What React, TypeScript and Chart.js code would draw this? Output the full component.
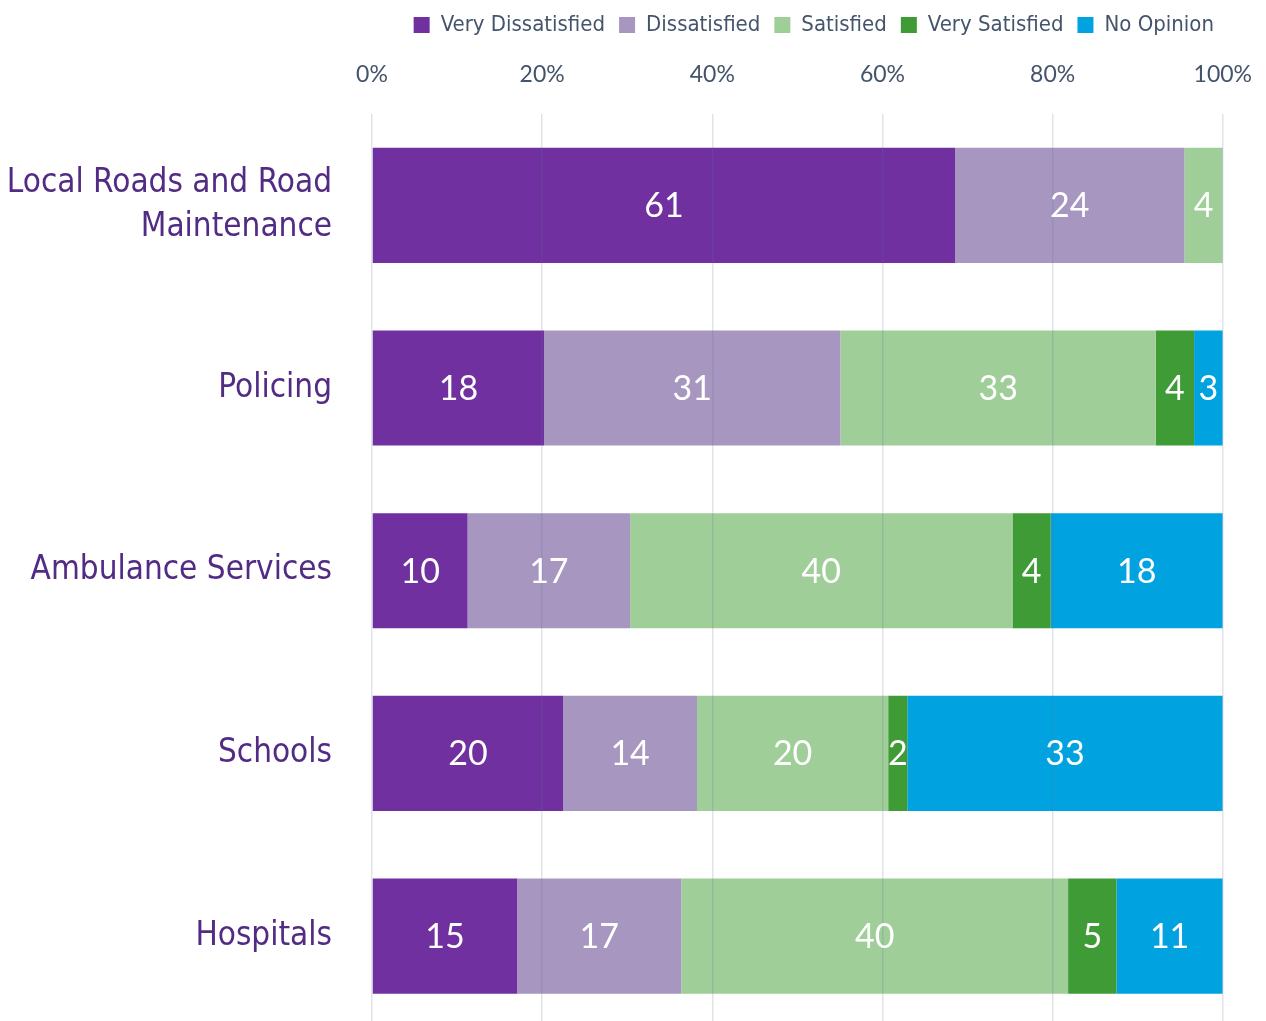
import React, { useEffect, useRef } from "react";
import { Chart, registerables } from "chart.js";

Chart.register(...registerables);

const categories: (string | string[])[] = [
  ["Local Roads and Road", "Maintenance"],
  "Policing",
  "Ambulance Services",
  "Schools",
  "Hospitals",
];

const seriesNames = ["Very Dissatisfied", "Dissatisfied", "Satisfied", "Very Satisfied", "No Opinion"];
const seriesColors = ["#7030A0", "#A696C0", "#A0CE98", "#3F9B35", "#00A2E0"];

const veryDissatisfied = [61, 18, 10, 20, 15];
const dissatisfied = [24, 31, 17, 14, 17];
const satisfied = [4, 33, 40, 20, 40];
const verySatisfied = [0, 4, 4, 2, 5];
const noOpinion = [0, 3, 18, 33, 11];

const xTickValues = [0, 20, 40, 60, 80, 100];

const NARROW = "'DejaVu Sans Condensed', 'DejaVu Sans', sans-serif";
const NUM = "Lato, 'Open Sans', sans-serif";

const W = 1278;
const H = 1112;

export default function App() {
  const ref = useRef<HTMLCanvasElement | null>(null);

  useEffect(() => {
    if (!ref.current) return;
    const counts = [veryDissatisfied, dissatisfied, satisfied, verySatisfied, noOpinion];
    const totals = categories.map((_, i) => counts.reduce((s, arr) => s + arr[i], 0));

    const labelPlugin = {
      id: "segLabels",
      afterDraw(chart: any) {
        const ctx = chart.ctx;
        ctx.save();
        ctx.fillStyle = "#FFFFFF";
        ctx.font = `34px ${NUM}`;
        ctx.textAlign = "center";
        ctx.textBaseline = "middle";
        chart.data.datasets.forEach((ds: any, di: number) => {
          const meta = chart.getDatasetMeta(di);
          meta.data.forEach((el: any, i: number) => {
            const c = ds.counts[i];
            if (!c) return;
            const p = el.getCenterPoint();
            ctx.fillText(String(c), p.x, p.y + 1);
          });
        });
        ctx.restore();
      },
    };

    const chart = new Chart(ref.current, {
      type: "bar",
      data: {
        labels: categories,
        datasets: counts.map((arr, k) => ({
          label: seriesNames[k],
          data: arr.map((v, i) => (v / totals[i]) * 100),
          counts: arr,
          backgroundColor: seriesColors[k],
          borderWidth: 0,
          categoryPercentage: 1,
          barPercentage: 0.63,
        })) as any,
      },
      options: {
        indexAxis: "y",
        animation: false,
        responsive: false,
        maintainAspectRatio: false,
        layout: { padding: { top: 0, right: 50, bottom: 0, left: 0 } },
        plugins: {
          tooltip: { enabled: false },
          legend: {
            position: "top",
            fullSize: true,
            align: "end",
            labels: {
              boxWidth: 16,
              boxHeight: 16,
              padding: 14,
              color: "#44546A",
              font: { family: NARROW, size: 22, lineHeight: 1 },
            },
          },
        },
        scales: {
          x: {
            position: "top",
            stacked: true,
            min: 0,
            max: 100,
            afterBuildTicks(scale: any) {
              scale.ticks = xTickValues.map((v) => ({ value: v }));
            },
            afterFit(scale: any) {
              scale.height = 68;
            },
            ticks: {
              padding: 26,
              color: "#44546A",
              font: { family: NUM, size: 23 },
              callback: (v: any) => `${v}%`,
            },
            grid: {
              drawTicks: false,
              color: "rgba(100,115,150,0.2)",
              lineWidth: 1.5,
              z: 1,
            },
            border: { display: false },
          },
          y: {
            stacked: true,
            afterFit(scale: any) {
              scale.width = 372;
            },
            ticks: {
              padding: 40,
              color: "#522C84",
              font: { family: NARROW, size: 33, lineHeight: 1.35 },
            },
            grid: { display: false, drawTicks: false },
            border: { display: false },
          },
        },
      },
      plugins: [labelPlugin],
    } as any);
    return () => chart.destroy();
  }, []);

  return (
    <div style={{ position: "fixed", left: 0, top: 0, width: W, height: H, background: "#fff" }}>
      <canvas ref={ref} width={W} height={H} style={{ display: "block", width: W, height: H }} />
    </div>
  );
}
